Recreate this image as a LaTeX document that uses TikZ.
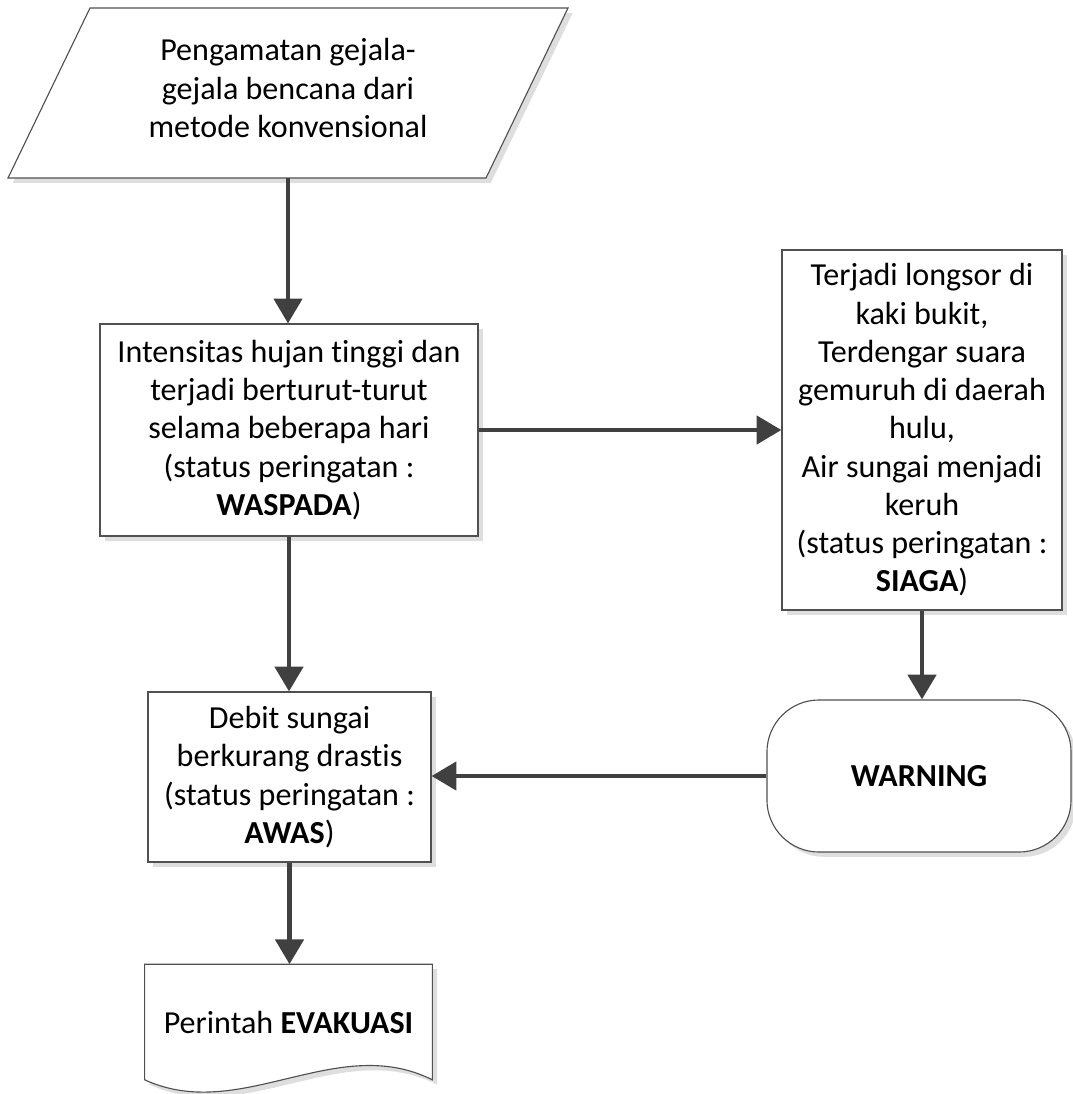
\documentclass[tikz,border=0pt]{standalone}
\usepackage{fontspec}
\setmainfont{Carlito}[Ligatures=NoCommon]
\usetikzlibrary{arrows.meta,shadows}

\definecolor{linegray}{RGB}{64,64,64}
\definecolor{edgegray}{RGB}{80,80,80}
\definecolor{shadegray}{RGB}{222,222,222}

\pgfdeclarelayer{background}
\pgfsetlayers{background,main}

\tikzset{
  chart/.style={draw=edgegray, line width=0.8pt, fill=white, align=center, inner sep=0pt,
    drop shadow={shadow xshift=0.12cm, shadow yshift=-0.12cm, fill=shadegray, opacity=1}},
  procbox/.style={chart, rectangle},
  flow/.style={draw=linegray, line width=3.4pt, -{Triangle[length=0.62cm,width=0.7cm]}},
}

\begin{document}
\begin{tikzpicture}[x=0.025cm, y=-0.025cm, font=\fontsize{22.8pt}{27.2pt}\selectfont]
  \useasboundingbox (0,0) rectangle (1073,1094);

  \node[align=center, minimum width=11.95cm, minimum height=4.5cm, inner sep=0pt] (obs) at (288,88)
        {Pengamatan gejala-\\gejala bencana dari\\metode konvensional};
  \node[procbox, minimum width=9.45cm, minimum height=5.3cm] (rain) at (289,430)
        {Intensitas hujan tinggi dan\\terjadi berturut-turut\\selama beberapa hari\\(status peringatan :\\\textbf{WASPADA})};
  \node[procbox, minimum width=7cm, minimum height=9cm] (sign) at (922,430)
        {Terjadi longsor di\\kaki bukit,\\Terdengar suara\\gemuruh di daerah\\hulu,\\Air sungai menjadi\\keruh\\(status peringatan :\\\textbf{SIAGA})};
  \node[procbox, rounded corners=1.3cm, minimum width=7.6cm, minimum height=3.8cm] (warn) at (919,776)
        {\textbf{WARNING}};
  \node[procbox, minimum width=7.075cm, minimum height=4.25cm] (debit) at (289.5,777)
        {Debit sungai\\berkurang drastis\\(status peringatan :\\\textbf{AWAS})};
  \node[minimum width=7.175cm, minimum height=2.875cm, inner sep=0pt] (evac) at (288.5,1022)
        {Perintah \textbf{EVAKUASI}};

  % input and document outlines
  \begin{pgfonlayer}{background}
    \draw[chart] (90,8) -- (568,8) -- (486,178) -- (8,178) -- cycle;
    \draw[chart] (evac.south east) -- (evac.north east) -- (evac.north west) -- (evac.south west)
      .. controls +(2.4cm,-1.1cm) and +(-2.4cm,1.2cm) .. (evac.south east) -- cycle;
  \end{pgfonlayer}

  \draw[flow] (obs.south) -- (obs.south |- rain.north);
  \draw[flow] (rain.east |- sign.west) -- (sign.west);
  \draw[flow] (rain.south) -- (rain.south |- debit.north);
  \draw[flow] (sign.south) -- (sign.south |- warn.north);
  \draw[flow] (warn.west) -- (warn.west -| debit.east);
  \draw[flow] (debit.south) -- (debit.south |- evac.north);
\end{tikzpicture}
\end{document}
